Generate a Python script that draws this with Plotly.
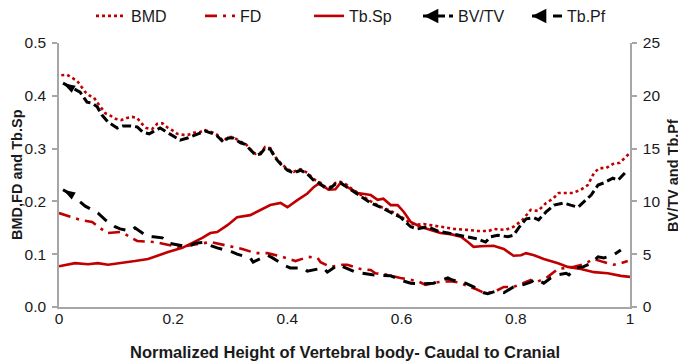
import plotly.graph_objects as go

# ---- data ----
bmd_x = [0.004,0.014,0.032,0.039,0.046,0.054,0.061,0.068,0.074,0.081,
         0.089,0.100,0.109,0.119,0.128,0.137,0.144,0.153,0.163,0.172,
         0.181,0.191,0.198,0.207,0.218,0.226,0.235,0.246,0.256,0.268,
         0.277,0.288,0.296,0.305,0.318,0.326,0.335,0.344,0.353,0.361,
         0.370,0.379,0.388,0.400,0.411,0.423,0.435,0.446,0.458,0.467,
         0.475,0.484,0.493,0.505,0.511,0.523,0.546,0.563,0.581,0.598,
         0.616,0.628,0.639,0.663,0.691,0.716,0.733,0.753,0.761,0.782,
         0.796,0.812,0.826,0.839,0.853,0.865,0.875,0.888,0.900,0.914,
         0.926,0.937,0.946,0.958,0.970,0.982,1.000]
bmd_y = [0.439,0.440,0.428,0.418,0.407,0.400,0.397,0.386,0.377,0.367,
         0.363,0.356,0.354,0.358,0.360,0.358,0.348,0.339,0.337,0.347,
         0.348,0.339,0.335,0.328,0.326,0.326,0.330,0.331,0.335,0.331,
         0.326,0.314,0.322,0.322,0.313,0.310,0.299,0.290,0.292,0.303,
         0.301,0.284,0.273,0.261,0.256,0.261,0.254,0.242,0.235,0.227,
         0.227,0.235,0.237,0.231,0.225,0.216,0.200,0.190,0.182,0.172,
         0.158,0.156,0.157,0.153,0.148,0.146,0.144,0.144,0.148,0.146,
         0.152,0.165,0.184,0.182,0.197,0.205,0.216,0.216,0.216,0.222,
         0.231,0.254,0.263,0.263,0.271,0.273,0.292]

fd_x = [0.000,0.016,0.037,0.058,0.063,0.084,0.107,0.116,0.137,0.160,
        0.168,0.186,0.209,0.226,0.247,0.265,0.295,0.321,0.344,0.365,
        0.391,0.414,0.437,0.453,0.458,0.475,0.496,0.505,0.528,0.546,
        0.554,0.575,0.598,0.628,0.642,0.663,0.686,0.698,0.730,0.744,
        0.761,0.779,0.796,0.826,0.832,0.856,0.874,0.888,0.902,0.919,
        0.937,0.954,0.972,0.984,0.996]
fd_y = [0.178,0.172,0.165,0.161,0.157,0.140,0.142,0.138,0.125,0.123,
        0.123,0.119,0.114,0.116,0.120,0.123,0.116,0.110,0.102,0.102,
        0.095,0.087,0.095,0.093,0.085,0.076,0.080,0.080,0.072,0.070,
        0.064,0.061,0.055,0.049,0.042,0.047,0.049,0.047,0.034,0.027,
        0.028,0.038,0.038,0.051,0.045,0.057,0.072,0.074,0.076,0.081,
        0.091,0.085,0.080,0.083,0.087]

tbsp_x = [0.000,0.005,0.028,0.051,0.068,0.086,0.111,0.133,0.156,0.174,
          0.191,0.216,0.233,0.251,0.265,0.277,0.295,0.312,0.335,0.353,
          0.370,0.388,0.400,0.418,0.435,0.446,0.454,0.463,0.472,0.484,
          0.493,0.505,0.523,0.546,0.558,0.568,0.581,0.593,0.604,0.616,
          0.633,0.651,0.668,0.686,0.704,0.716,0.726,0.739,0.761,0.779,
          0.796,0.809,0.818,0.832,0.849,0.874,0.891,0.914,0.937,0.961,
          0.984,1.000]
tbsp_y = [0.077,0.078,0.083,0.081,0.083,0.080,0.083,0.087,0.091,0.098,
          0.104,0.112,0.121,0.131,0.140,0.142,0.155,0.170,0.174,0.184,
          0.193,0.197,0.189,0.203,0.215,0.227,0.233,0.229,0.222,0.223,
          0.235,0.227,0.216,0.212,0.203,0.205,0.193,0.193,0.180,0.161,
          0.152,0.146,0.140,0.138,0.133,0.123,0.114,0.115,0.116,0.110,
          0.097,0.098,0.102,0.098,0.091,0.083,0.076,0.072,0.066,0.064,
          0.059,0.057]

bvtv_x = [0.007,0.037,0.049,0.058,0.067,0.075,0.086,0.102,0.112,0.125,
          0.137,0.147,0.158,0.168,0.177,0.189,0.200,0.212,0.225,0.235,
          0.251,0.256,0.268,0.277,0.288,0.296,0.305,0.318,0.326,0.335,
          0.344,0.353,0.361,0.370,0.379,0.388,0.400,0.411,0.423,0.435,
          0.446,0.458,0.467,0.475,0.484,0.493,0.511,0.528,0.546,0.563,
          0.581,0.598,0.616,0.628,0.646,0.663,0.681,0.698,0.716,0.733,
          0.747,0.756,0.768,0.786,0.796,0.805,0.818,0.832,0.840,0.853,
          0.867,0.884,0.896,0.909,0.919,0.932,0.944,0.954,0.970,0.979,
          0.993]
bvtv_y = [21.2,20.35,19.4,19.3,18.95,18.2,17.5,16.95,17.15,17.15,
          17.05,16.55,16.4,16.65,16.95,16.55,16.2,15.8,16.0,16.2,
          16.5,16.65,16.45,16.2,15.6,16.0,16.0,15.55,15.4,14.85,
          14.4,14.5,15.05,14.95,14.1,13.55,12.95,12.7,12.95,12.6,
          12.0,11.65,11.25,11.25,11.65,11.75,11.1,10.5,9.85,9.45,
          9.0,8.5,7.6,7.4,7.6,7.2,7.0,6.8,6.65,6.45,
          6.15,6.65,6.8,6.65,6.8,7.5,8.35,8.45,8.25,9.0,
          9.65,9.85,9.65,9.45,9.95,10.6,11.55,11.75,12.2,12.0,
          12.8]

tbpf_x = [0.007,0.023,0.046,0.051,0.068,0.081,0.098,0.107,0.125,0.133,
          0.154,0.165,0.181,0.191,0.212,0.225,0.239,0.251,0.277,0.304,
          0.312,0.335,0.340,0.365,0.374,0.396,0.405,0.428,0.435,0.463,
          0.470,0.489,0.502,0.519,0.549,0.581,0.598,0.616,0.639,0.656,
          0.681,0.689,0.712,0.726,0.744,0.751,0.765,0.779,0.796,0.812,
          0.826,0.835,0.849,0.861,0.874,0.888,0.893,0.905,0.918,0.932,
          0.944,0.954,0.970,0.984]
tbpf_y = [11.1,10.6,9.55,9.4,8.9,8.25,7.6,7.4,7.2,7.5,
          6.7,6.65,6.55,6.05,5.85,5.7,6.05,6.1,5.6,5.2,
          5.0,4.65,4.25,4.9,4.65,3.9,3.7,3.7,3.4,3.7,
          3.3,4.0,3.7,3.3,3.05,2.95,2.55,2.25,2.2,2.25,
          2.75,2.55,2.25,1.9,1.35,1.25,1.5,1.35,1.9,2.1,
          2.35,2.65,2.25,2.75,3.05,3.2,3.05,3.7,3.8,4.15,
          4.75,4.65,4.9,5.4]

for a, b in [(bmd_x, bmd_y), (fd_x, fd_y), (tbsp_x, tbsp_y), (bvtv_x, bvtv_y), (tbpf_x, tbpf_y)]:
    assert len(a) == len(b), (len(a), len(b))

x_ticks = [0, 0.2, 0.4, 0.6, 0.8, 1]
x_labels = ["0", "0.2", "0.4", "0.6", "0.8", "1"]
left_ticks = [0.0, 0.1, 0.2, 0.3, 0.4, 0.5]
right_ticks = [0, 5, 10, 15, 20, 25]

RED = "#C00000"
BLACK = "#000000"
AXIS = "#A6A6A6"
TXT = "#1a1a1a"
FONT = "Liberation Sans, Arial, sans-serif"

# the page body adds an 8px offset, so the figure is 8px smaller
W, H = 678, 356
ML, MR, MT, MB = 51, 56, 35, 57
PW, PH = W - ML - MR, H - MT - MB

LEG_LEFT = 83      # legend box left, figure px
LEG_PITCH = 108    # entrywidth 64 + symbol area
LEG_YC = 8         # legend row centre, figure px

fig = go.Figure()
fig.add_trace(go.Scatter(x=bmd_x, y=bmd_y, name="BMD", mode="lines",
                         line=dict(color=RED, width=2.6, dash="dot")))
fig.add_trace(go.Scatter(x=fd_x, y=fd_y, name="FD", mode="lines",
                         line=dict(color=RED, width=2.6, dash="12px,6px,3px,6px")))
fig.add_trace(go.Scatter(x=tbsp_x, y=tbsp_y, name="Tb.Sp", mode="lines",
                         line=dict(color=RED, width=2.6)))
fig.add_trace(go.Scatter(x=bvtv_x, y=bvtv_y, name="BV/TV", mode="lines",
                         yaxis="y2", legendgroup="bvtv",
                         line=dict(color=BLACK, width=3, dash="9px,4px")))
fig.add_trace(go.Scatter(x=tbpf_x, y=tbpf_y, name="Tb.Pf", mode="lines",
                         yaxis="y2", legendgroup="tbpf",
                         line=dict(color=BLACK, width=3, dash="12px,9px")))
# arrowheads at the caudal end of the two black series
for xs, ys, grp in [(bvtv_x, bvtv_y, "bvtv"), (tbpf_x, tbpf_y, "tbpf")]:
    fig.add_trace(go.Scatter(x=xs[:1], y=ys[:1], mode="markers", yaxis="y2",
                             showlegend=False, legendgroup=grp, hoverinfo="skip",
                             marker=dict(symbol="arrow", angle=-60, size=13, color=BLACK,
                                         line=dict(width=0))))

# arrowheads on the legend samples of BV/TV (4th entry) and Tb.Pf (5th entry)
for k in (3, 4):
    head_px = LEG_LEFT + 9 + k * LEG_PITCH
    fig.add_annotation(text="", showarrow=True, xref="paper", yref="paper",
                       x=(head_px - ML) / PW, y=1 + (MT - LEG_YC) / PH,
                       ax=9, ay=0, arrowhead=2, arrowsize=1.1, arrowwidth=2.6,
                       arrowcolor=BLACK, standoff=0)

TITLE_FONT = dict(size=14.5, color=TXT, family=FONT)
fig.add_annotation(text="<b>BMD,FD and Tb.Sp</b>", textangle=-90, showarrow=False,
                   xref="paper", yref="paper", x=-(ML - 9) / PW, y=0.5,
                   xanchor="center", yanchor="middle", font=TITLE_FONT)
fig.add_annotation(text="<b>BV/TV and Tb.Pf</b>", textangle=-90, showarrow=False,
                   xref="paper", yref="paper", x=1 + (665 - (W - MR)) / PW, y=0.5,
                   xanchor="center", yanchor="middle", font=TITLE_FONT)
fig.add_annotation(text="<b>Normalized Height of Vertebral body- Caudal to Cranial</b>",
                   showarrow=False, xref="paper", yref="paper", x=0.5,
                   y=-(344 - (MT + PH)) / PH, xanchor="center", yanchor="middle",
                   font=dict(size=16.5, color=TXT, family=FONT))

fig.update_layout(
    width=W, height=H,
    margin=dict(l=ML, r=MR, t=MT, b=MB, autoexpand=False),
    paper_bgcolor="white", plot_bgcolor="white",
    font=dict(family=FONT, size=15, color=TXT),
    showlegend=True,
    legend=dict(orientation="h", x=(LEG_LEFT - ML) / PW, xanchor="left",
                y=1 + (MT - LEG_YC) / PH, yanchor="middle",
                font=dict(size=16, color=TXT), entrywidth=64, entrywidthmode="pixels",
                bgcolor="rgba(0,0,0,0)", tracegroupgap=0),
    xaxis=dict(range=[0, 1], tickvals=x_ticks, ticktext=x_labels,
               showgrid=False, zeroline=False, showline=True, linecolor=AXIS, linewidth=1.5,
               ticks="", tickfont=dict(size=15.5), automargin=False, ticklabelstandoff=-3),
    yaxis=dict(range=[0, 0.5], tickvals=left_ticks, tickformat=".1f",
               showgrid=False, zeroline=False, showline=True, linecolor=AXIS, linewidth=1.5,
               ticks="outside", ticklen=5, tickcolor=AXIS, tickwidth=1.5,
               tickfont=dict(size=15.5), automargin=False, ticklabelstandoff=3),
    yaxis2=dict(range=[0, 25], tickvals=right_ticks, overlaying="y", side="right",
                showgrid=False, zeroline=False, showline=True, linecolor=AXIS, linewidth=1.5,
                ticks="outside", ticklen=5, tickcolor=AXIS, tickwidth=1.5,
                tickfont=dict(size=15.5), automargin=False, ticklabelstandoff=3),
)

fig.write_html("out.html")
